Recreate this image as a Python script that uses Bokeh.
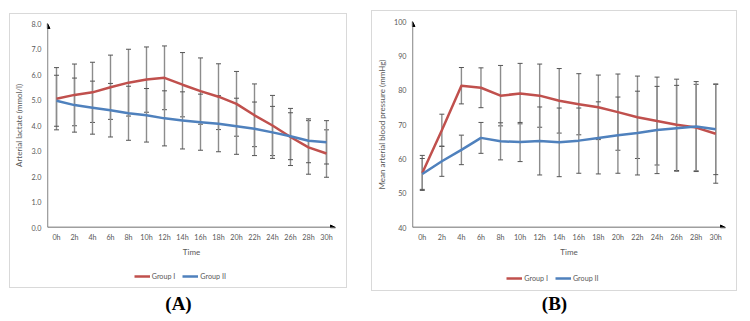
from bokeh.plotting import figure
from bokeh.models import (Range1d, FixedTicker, ColumnDataSource, Whisker, TeeHead, Arrow,
                          NormalHead, Legend, LegendItem, Label, PrintfTickFormatter)
from bokeh.layouts import row, column
from bokeh.embed import file_html
from bokeh.resources import INLINE

# ---------------- data ----------------
hours = [0, 2, 4, 6, 8, 10, 12, 14, 16, 18, 20, 22, 24, 26, 28, 30]
time_labels = ["0h", "2h", "4h", "6h", "8h", "10h", "12h", "14h", "16h", "18h",
               "20h", "22h", "24h", "26h", "28h", "30h"]

# (A) arterial lactate (mmol/l)
lactate_g1 = [5.05, 5.2, 5.3, 5.5, 5.68, 5.8, 5.87, 5.6, 5.35, 5.13, 4.85, 4.4, 4.0, 3.55, 3.14, 2.9]
lactate_g1_sd = [1.22, 1.21, 1.18, 1.26, 1.31, 1.28, 1.25, 1.26, 1.3, 1.29, 1.27, 1.23, 1.18, 1.12, 1.05, 0.93]
lactate_g2 = [4.97, 4.8, 4.7, 4.6, 4.48, 4.4, 4.28, 4.2, 4.13, 4.07, 3.97, 3.87, 3.73, 3.58, 3.4, 3.34]
lactate_g2_sd = [1.0, 1.06, 1.04, 1.05, 1.06, 1.05, 1.08, 1.12, 1.1, 1.1, 1.1, 1.05, 1.02, 0.92, 0.86, 0.85]

# (B) mean arterial blood pressure (mmHg)
map_g1 = [55.9, 68.3, 81.3, 80.7, 78.4, 79.0, 78.4, 76.9, 75.9, 75.0, 73.6, 72.1, 71.0, 69.9, 69.1, 67.3]
map_g1_sd = [5.1, 4.7, 5.3, 5.8, 8.8, 8.8, 9.2, 9.4, 8.9, 9.4, 11.1, 12.0, 12.8, 13.3, 12.6, 14.4]
map_g2 = [55.6, 59.3, 62.6, 66.1, 65.1, 64.9, 65.2, 64.8, 65.3, 66.1, 66.9, 67.5, 68.4, 68.9, 69.4, 68.6]
map_g2_sd = [4.5, 4.4, 4.3, 4.5, 5.4, 5.7, 9.9, 10.0, 9.5, 10.5, 11.1, 12.2, 12.7, 12.5, 13.1, 13.2]

series_names = ["Group I", "Group II"]
y_ticks_a = [0, 1, 2, 3, 4, 5, 6, 7, 8]
y_ticks_b = [40, 50, 60, 70, 80, 90, 100]

# ---------------- style ----------------
RED = "#C0504D"
BLUE = "#4F81BD"
TXT = "#595959"
FONT = "Lato"
EDGE = "#d9d9d9"
BOX_TOP = {"box-shadow": f"inset 1px 0 0 {EDGE}, inset -1px 0 0 {EDGE}, inset 0 1px 0 {EDGE}"}
BOX_BOTTOM = {"box-shadow": f"inset 1px 0 0 {EDGE}, inset -1px 0 0 {EDGE}, inset 0 -1px 0 {EDGE}"}


def panel(width, height, margin, mb, y0, y1, yticks, yfmt, ylabel, g1, g1sd, g2, g2sd):
    p = figure(width=width, height=height, x_range=Range1d(-1, 31), y_range=Range1d(y0, y1),
               output_backend="svg", toolbar_location=None,
               min_border_left=mb[0], min_border_right=mb[1],
               min_border_top=mb[2], min_border_bottom=mb[3],
               outline_line_color=None, background_fill_color=None,
               border_fill_color=None, margin=margin, styles=BOX_TOP)
    p.xgrid.visible = False
    p.ygrid.visible = False

    xa = p.xaxis[0]
    xa.ticker = FixedTicker(ticks=hours)
    xa.major_label_overrides = {h: t for h, t in zip(hours, time_labels)}
    xa.axis_label = "Time"
    ya = p.yaxis[0]
    ya.ticker = FixedTicker(ticks=yticks)
    ya.formatter = PrintfTickFormatter(format=yfmt)
    ya.axis_label = ylabel
    for ax in (xa, ya):
        ax.axis_line_color = None
        ax.major_tick_line_color = None
        ax.minor_tick_line_color = None
        ax.major_tick_out = 0
        ax.major_label_text_font = FONT
        ax.major_label_text_font_size = "7.2px"
        ax.major_label_text_color = TXT
        ax.axis_label_text_font = FONT
        ax.axis_label_text_font_size = "8px"
        ax.axis_label_text_font_style = "normal"
        ax.axis_label_text_color = TXT
        ax.major_label_standoff = 6
    xa.major_label_standoff = 5
    xa.axis_label_standoff = 2
    ya.axis_label_standoff = 4

    # error bars (mean +/- SD)
    for m, s in ((g1, g1sd), (g2, g2sd)):
        src = ColumnDataSource(dict(x=hours,
                                    upper=[a + b for a, b in zip(m, s)],
                                    lower=[a - b for a, b in zip(m, s)]))
        w = Whisker(source=src, base="x", upper="upper", lower="lower",
                    line_color="#8c8c8c", line_width=1.4, level="underlay",
                    upper_head=TeeHead(size=5, line_color="#555555", line_width=1),
                    lower_head=TeeHead(size=5, line_color="#555555", line_width=1))
        p.add_layout(w)

    p.line(hours, g1, line_color=RED, line_width=2.5, line_join="round")
    p.line(hours, g2, line_color=BLUE, line_width=2.5, line_join="round")

    # axes with arrow heads
    p.add_layout(Arrow(end=NormalHead(size=5, fill_color="black", line_color="black"),
                       x_start=-1, y_start=y0, x_end=-1, y_end=y1,
                       line_color="#404040", line_width=1.3))
    p.add_layout(Arrow(end=NormalHead(size=5, fill_color="black", line_color="black"),
                       x_start=-1, y_start=y0, x_end=31, y_end=y0,
                       line_color="#404040", line_width=1.3))
    return p


def bare_fig(width, height, margin, mb, x0, styles=None):
    # same left/right borders as the chart above it (Bokeh aligns frames in a column)
    fw = width - mb[0] - mb[1]
    f = figure(width=width, height=height, title=None,
               x_range=Range1d(x0, x0 + fw), y_range=Range1d(0, height),
               output_backend="svg", toolbar_location=None,
               x_axis_location=None, y_axis_location=None,
               min_border_left=mb[0], min_border_right=mb[1],
               min_border_top=0, min_border_bottom=0,
               outline_line_color=None, margin=margin,
               background_fill_color=None, border_fill_color=None,
               styles=styles or {})
    f.grid.visible = False
    return f


def legend_fig(width, height, margin, mb, lx, ly, g1, g2):
    # the series are drawn off-range here; they only feed the legend swatches
    f = bare_fig(width, height, margin, mb, 1000, BOX_BOTTOM)
    r1 = f.line(hours, g1, line_color=RED, line_width=2.5)
    r2 = f.line(hours, g2, line_color=BLUE, line_width=2.5)
    leg = Legend(items=[LegendItem(label=series_names[0], renderers=[r1]),
                        LegendItem(label=series_names[1], renderers=[r2])],
                 orientation="horizontal", location=(lx - mb[0], ly),
                 glyph_width=16, glyph_height=12, label_height=12,
                 label_standoff=2, spacing=7, padding=2, margin=0,
                 border_line_color=None, background_fill_alpha=0,
                 label_text_font=FONT, label_text_font_size="7.2px",
                 label_text_color=TXT)
    f.add_layout(leg)
    return f


def tag_fig(width, height, margin, mb, text, cx, center_from_top):
    t = bare_fig(width, height, margin, mb, 0)
    t.add_layout(Label(x=cx - mb[0], y=height - center_from_top, text=text,
                       text_align="center", text_baseline="middle",
                       text_font="Liberation Serif", text_font_style="bold",
                       text_font_size="19px", text_color="black"))
    return t


MB_A = (38, 12, 10, 33)
MB_B = (41, 12, 11, 35)

pa = panel(338, 247, (13, 0, 0, 9), MB_A, 0, 8, y_ticks_a, "%.1f",
           "Arterial lactate (mmol/l)",
           lactate_g1, lactate_g1_sd, lactate_g2, lactate_g2_sd)
la = legend_fig(338, 28, (0, 0, 0, 9), MB_A, 124.7, 6, lactate_g1, lactate_g2)
ta = tag_fig(338, 33, (0, 0, 0, 9), MB_A, "(A)", 169, 15)

pb = panel(366, 252, (10, 0, 0, 24), MB_B, 40, 100, y_ticks_b, "%d",
           "Mean arterial blood pressure (mmHg)",
           map_g1, map_g1_sd, map_g2, map_g2_sd)
lb = legend_fig(366, 29, (0, 0, 0, 24), MB_B, 135.3, 7, map_g1, map_g2)
tb = tag_fig(366, 30, (0, 0, 0, 24), MB_B, "(B)", 183, 12)

layout = row(column(pa, la, ta), column(pb, lb, tb))
open("out.html", "w").write(file_html(layout, INLINE))
